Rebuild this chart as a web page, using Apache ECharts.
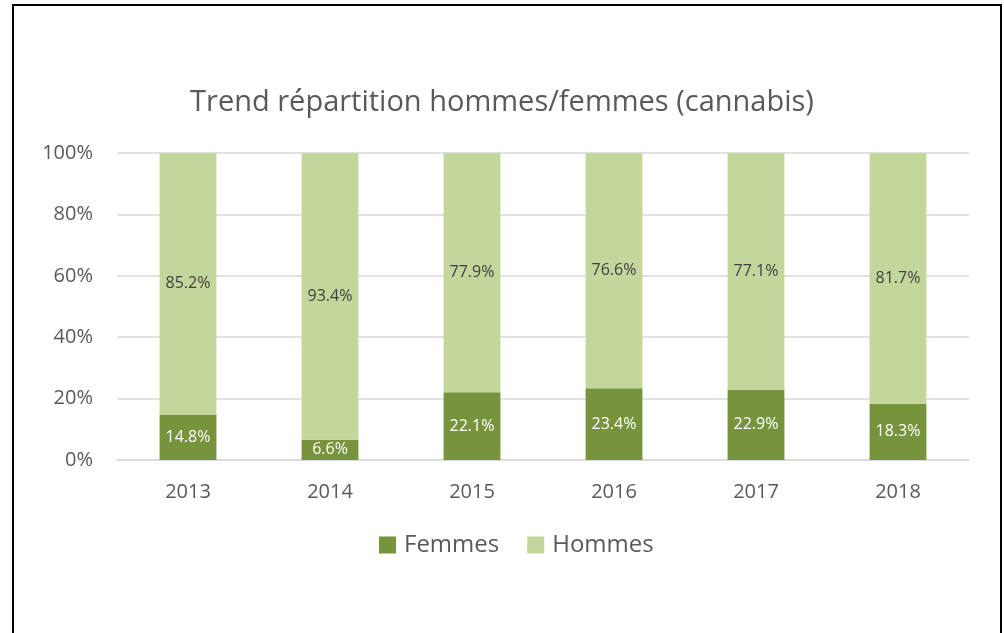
<!DOCTYPE html>
<html>
<head>
<meta charset="utf-8">
<script src="https://cdn.jsdelivr.net/npm/echarts@6/dist/echarts.min.js"></script>
<style>
html, body { margin: 0; padding: 0; background: #fff; }
#frame {
    position: absolute; left: 12px; top: 4px; width: 986px; height: 640px;
    border-left: 2px solid #000; border-top: 2px solid #000; border-right: 2px solid #000;
}
#chart { position: absolute; left: 0; top: 0; width: 1004px; height: 633px; }
</style>
</head>
<body>
<div id="frame"></div>
<div id="chart"></div>
<script>
var years = ['2013', '2014', '2015', '2016', '2017', '2018'];
var femmes = [14.8, 6.6, 22.1, 23.4, 22.9, 18.3];
var hommes = [85.2, 93.4, 77.9, 76.6, 77.1, 81.7];
var yTicks = [0, 20, 40, 60, 80, 100];

var font = '"Open Sans", "Noto Sans", sans-serif';
var myChart = echarts.init(document.getElementById('chart'));

var option = {
    animation: false,
    title: {
        text: 'Trend répartition hommes/femmes (cannabis)',
        left: 'center',
        top: 83,
        textStyle: { fontFamily: font, fontSize: 29, fontWeight: 'normal', color: '#595959' }
    },
    legend: {
        top: 528,
        left: 374,
        itemWidth: 17,
        itemHeight: 17,
        itemGap: 28,
        icon: 'rect',
        textStyle: { fontFamily: font, fontSize: 24, color: '#595959', padding: [0, 0, 0, 3] },
        data: ['Femmes', 'Hommes']
    },
    grid: { left: 117, right: 35, top: 153, bottom: 173 },
    xAxis: {
        type: 'category',
        data: years,
        axisTick: { show: false },
        axisLine: { lineStyle: { color: '#D9D9D9', width: 1.5 } },
        axisLabel: { fontFamily: font, fontSize: 20, color: '#595959', margin: 22 }
    },
    yAxis: {
        type: 'value',
        min: yTicks[0],
        max: yTicks[yTicks.length - 1],
        interval: 20,
        axisLine: { show: false },
        axisTick: { show: false },
        splitLine: { lineStyle: { color: '#D9D9D9', width: 1.5 } },
        axisLabel: {
            fontFamily: font, fontSize: 20, color: '#595959', margin: 24,
            formatter: function (v) { return v + '%'; }
        }
    },
    series: [
        {
            name: 'Femmes',
            type: 'bar',
            stack: 'total',
            barWidth: '40%',
            data: femmes,
            itemStyle: { color: '#77933C' },
            label: {
                show: true, position: 'inside',
                fontFamily: font, fontSize: 16, color: '#ffffff',
                formatter: function (p) { return p.value.toFixed(1) + '%'; }
            }
        },
        {
            name: 'Hommes',
            type: 'bar',
            stack: 'total',
            barWidth: '40%',
            data: hommes,
            itemStyle: { color: '#C3D69B' },
            label: {
                show: true, position: 'inside',
                fontFamily: font, fontSize: 16, color: '#404040',
                formatter: function (p) { return p.value.toFixed(1) + '%'; }
            }
        }
    ]
};
myChart.setOption(option);
</script>
</body>
</html>
